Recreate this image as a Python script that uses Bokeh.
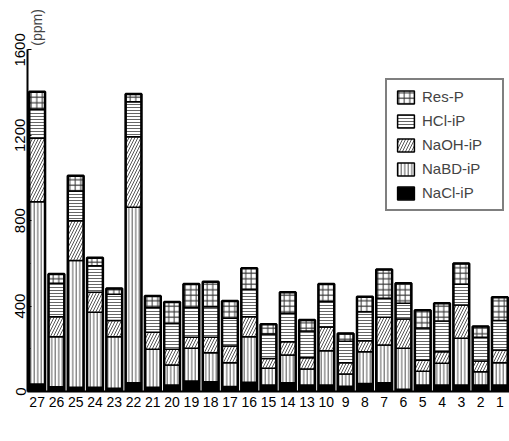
import numpy as np
from math import pi
from bokeh.plotting import figure
from bokeh.models import Range1d, FixedTicker, Legend, LegendItem, Label, ColumnDataSource
from bokeh.embed import file_html
from bokeh.resources import INLINE

samples = ["27", "26", "25", "24", "23", "22", "21", "20", "19", "18", "17", "16", "15",
           "14", "13", "10", "9", "8", "7", "6", "5", "4", "3", "2", "1"]
nacl_ip = [35, 22, 20, 20, 15, 41, 20, 30, 49, 46, 23, 43, 30, 41, 30, 30, 25, 38, 41, 10, 30, 30, 30, 30, 30]
nabd_ip = [854, 235, 593, 351, 242, 822, 178, 94, 153, 136, 112, 214, 79, 130, 75, 161, 57, 148, 177, 192, 65, 102, 219, 63, 105]
naoh_ip = [297, 93, 187, 94, 75, 330, 79, 74, 52, 72, 78, 93, 46, 62, 53, 111, 53, 52, 130, 138, 51, 54, 156, 50, 59]
hcl_ip = [136, 157, 139, 124, 123, 164, 117, 121, 140, 143, 130, 129, 114, 133, 125, 120, 100, 136, 89, 73, 151, 144, 97, 111, 138]
res_p = [82, 43, 72, 38, 28, 36, 53, 100, 109, 117, 81, 98, 46, 99, 52, 81, 37, 70, 135, 94, 83, 83, 98, 50, 109]
series_names = ["NaCl-iP", "NaBD-iP", "NaOH-iP", "HCl-iP", "Res-P"]
y_ticks = [0, 400, 800, 1200, 1600]
y_minor = [200, 600, 1000, 1400]

FONT = "Liberation Sans"
series = [nacl_ip, nabd_ip, naoh_ip, hcl_ip, res_p]
styles = [
    dict(fill_color="black", hatch_pattern=None),
    dict(fill_color="white", hatch_pattern="vertical_line", hatch_color="#555555", hatch_scale=3.5, hatch_weight=1),
    dict(fill_color="white", hatch_pattern="right_diagonal_line", hatch_color="#555555", hatch_scale=6, hatch_weight=1),
    dict(fill_color="white", hatch_pattern="horizontal_line", hatch_color="#666666", hatch_scale=3, hatch_weight=1),
    dict(fill_color="white", hatch_pattern="cross", hatch_color="#333333", hatch_scale=5.5, hatch_weight=1),
]

p = figure(x_range=samples, y_range=Range1d(0, 1822), width=509, height=441,
           output_backend="svg", toolbar_location=None,
           min_border_left=27, min_border_right=0, min_border_top=2, min_border_bottom=50)
p.outline_line_color = None
p.xgrid.grid_line_color = None
p.ygrid.grid_line_color = None

arr = np.array(series, dtype=float)
tops = np.cumsum(arr, axis=0)
bottoms = tops - arr
renderers = []
for i, name in enumerate(series_names):
    src = ColumnDataSource(dict(x=samples, top=tops[i], bottom=bottoms[i]))
    st = dict(styles[i])
    hp = st.pop("hatch_pattern")
    kw = dict(x="x", top="top", bottom="bottom", width=0.82, source=src,
              line_color="black", line_width=1.5, **st)
    if hp:
        kw["hatch_pattern"] = hp
    r = p.vbar(**kw)
    renderers.append(r)

p.vbar(x=samples, top=tops[-1], bottom=0, width=0.82, fill_color=None,
       line_color="black", line_width=2.5)

items = [LegendItem(label=series_names[i], renderers=[renderers[i]]) for i in range(4, -1, -1)]
legend = Legend(items=items, location=(358, 180), border_line_color="black", border_line_width=2,
                padding=8, spacing=7, glyph_width=21, glyph_height=16, label_height=16,
                label_width=72, label_standoff=6, label_text_font_size="15px",
                label_text_font=FONT, margin=0, background_fill_color="white")
p.add_layout(legend, "center")

ya = p.yaxis[0]
ya.ticker = FixedTicker(ticks=y_ticks, minor_ticks=y_minor)
ya.bounds = (0, 1600)
ya.axis_line_width = 2
ya.major_tick_in = 4
ya.major_tick_out = 0
ya.minor_tick_in = 3
ya.minor_tick_out = 0
ya.major_label_orientation = "vertical"
ya.major_label_standoff = 2
ya.major_label_text_font = FONT
ya.major_label_text_font_size = "15px"
ya.major_label_text_color = "black"

xa = p.xaxis[0]
xa.axis_line_width = 2
xa.major_tick_line_color = None
xa.minor_tick_line_color = None
xa.major_tick_out = 0
xa.major_label_standoff = 5
xa.major_label_text_font = FONT
xa.major_label_text_font_size = "14px"
xa.major_label_text_color = "black"

p.add_layout(Label(x=0, y=1620, text="(ppm)", angle=pi / 2, text_align="left", text_baseline="top",
                   x_offset=1, text_font=FONT, text_font_size="14px"))
p.add_layout(Label(x=11.44, y=-168, text="Sample No.", text_align="center", text_baseline="middle",
                   text_font=FONT, text_font_size="15px"))

open("out.html", "w").write(file_html(p, INLINE))
